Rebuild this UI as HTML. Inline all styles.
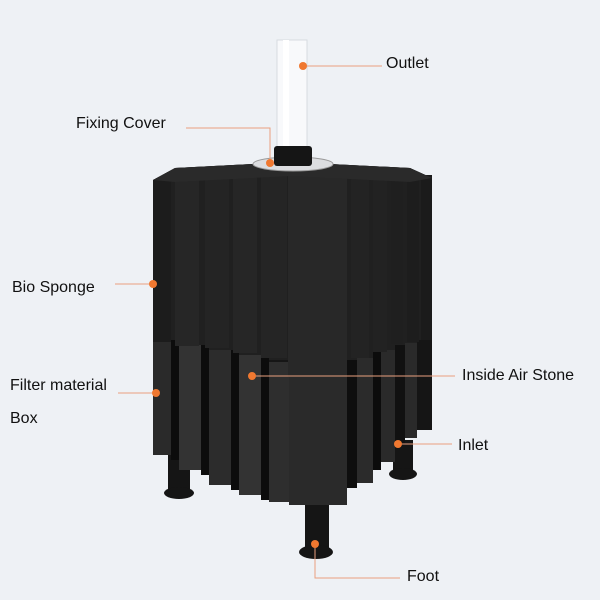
<!DOCTYPE html>
<html><head><style>
html,body{margin:0;padding:0;background:#eef1f5;}
svg{display:block}
text{font-family:"Liberation Sans",sans-serif;font-size:16px;fill:#111}
</style></head><body>
<svg width="600" height="600" viewBox="0 0 600 600">
<rect width="600" height="600" fill="#eef1f5"/>
<!-- tube -->
<rect x="277" y="40" width="30" height="115" fill="#f8f9fb" stroke="#d7dbe0"/>
<rect x="283" y="40" width="6" height="115" fill="#ffffff"/>
<!-- feet -->
<g fill="#151515">
<rect x="168" y="450" width="22" height="40"/><ellipse cx="179" cy="493" rx="15" ry="6"/>
<rect x="393" y="440" width="20" height="32"/><ellipse cx="403" cy="474" rx="14" ry="6"/>
<rect x="305" y="500" width="24" height="50"/><ellipse cx="316" cy="552" rx="17" ry="7"/>
</g>
<!-- backing -->
<path d="M153 180 L175 168 L290 162 L410 168 L432 178 L432 385 L153 385 Z" fill="#161616"/>
<!-- sponge body -->
<path d="M153 180 L175 168 L290 162 L410 168 L432 178 L432 360 L153 360 Z" fill="#202020"/>
<!-- box region -->
<g>
<rect x="153" y="340" width="18" height="115" fill="#2a2a2a"/>
<rect x="171" y="340" width="8" height="120" fill="#0c0c0c"/>
<rect x="179" y="345" width="22" height="125" fill="#333"/>
<rect x="201" y="345" width="8" height="130" fill="#0c0c0c"/>
<rect x="209" y="350" width="22" height="135" fill="#2c2c2c"/>
<rect x="231" y="350" width="8" height="140" fill="#0c0c0c"/>
<rect x="239" y="355" width="22" height="140" fill="#333"/>
<rect x="261" y="355" width="8" height="145" fill="#0c0c0c"/>
<rect x="269" y="362" width="20" height="140" fill="#2e2e2e"/>
<rect x="289" y="375" width="58" height="130" fill="#2a2a2a"/>
<rect x="347" y="360" width="10" height="128" fill="#0e0e0e"/>
<rect x="357" y="358" width="16" height="125" fill="#2b2b2b"/>
<rect x="373" y="352" width="8" height="118" fill="#0c0c0c"/>
<rect x="381" y="350" width="14" height="112" fill="#2a2a2a"/>
<rect x="395" y="345" width="10" height="100" fill="#111"/>
<rect x="405" y="343" width="12" height="95" fill="#2a2a2a"/>
<rect x="417" y="340" width="15" height="90" fill="#151515"/>
</g>
<!-- sponge fins overlay -->
<g>
<rect x="153" y="180" width="18" height="162" fill="#1c1c1c"/>
<rect x="175" y="178" width="24" height="168" fill="#262626"/>
<rect x="205" y="176" width="24" height="172" fill="#242424"/>
<rect x="233" y="175" width="24" height="178" fill="#262626"/>
<rect x="261" y="172" width="26" height="186" fill="#252525"/>
<rect x="288" y="175" width="59" height="202" fill="#282828"/>
<rect x="351" y="172" width="18" height="186" fill="#232323"/>
<rect x="373" y="172" width="14" height="180" fill="#222"/>
<rect x="391" y="172" width="12" height="172" fill="#1f1f1f"/>
<rect x="407" y="172" width="12" height="170" fill="#1d1d1d"/>
<rect x="421" y="175" width="11" height="165" fill="#1b1b1b"/>
</g>
<path d="M153 180 L175 168 L290 162 L410 168 L432 178 L410 182 L290 176 L175 182 Z" fill="#2a2a2a"/>
<!-- washer & collar -->
<ellipse cx="293" cy="164" rx="40" ry="7" fill="#dcdde0" stroke="#999"/>
<rect x="274" y="146" width="38" height="20" rx="3" fill="#151515"/>
<!-- leaders -->
<g stroke="#e9a07e" stroke-width="1" fill="none">
<line x1="303" y1="66" x2="382" y2="66"/>
<polyline points="186,128 270,128 270,163"/>
<line x1="115" y1="284" x2="153" y2="284"/>
<line x1="118" y1="393" x2="156" y2="393"/>
<line x1="252" y1="376" x2="455" y2="376"/>
<line x1="398" y1="444" x2="452" y2="444"/>
<polyline points="315,544 315,578 400,578"/>
</g>
<g fill="#f07830">
<circle cx="303" cy="66" r="4"/><circle cx="270" cy="163" r="4"/>
<circle cx="153" cy="284" r="4"/><circle cx="156" cy="393" r="4"/>
<circle cx="252" cy="376" r="4"/><circle cx="398" cy="444" r="4"/>
<circle cx="315" cy="544" r="4"/>
</g>
<text x="386" y="68">Outlet</text>
<text x="76" y="128">Fixing Cover</text>
<text x="12" y="292">Bio Sponge</text>
<text x="10" y="390">Filter material</text>
<text x="10" y="423">Box</text>
<text x="462" y="380">Inside Air Stone</text>
<text x="458" y="450">Inlet</text>
<text x="407" y="581">Foot</text>
</svg>
</body></html>
